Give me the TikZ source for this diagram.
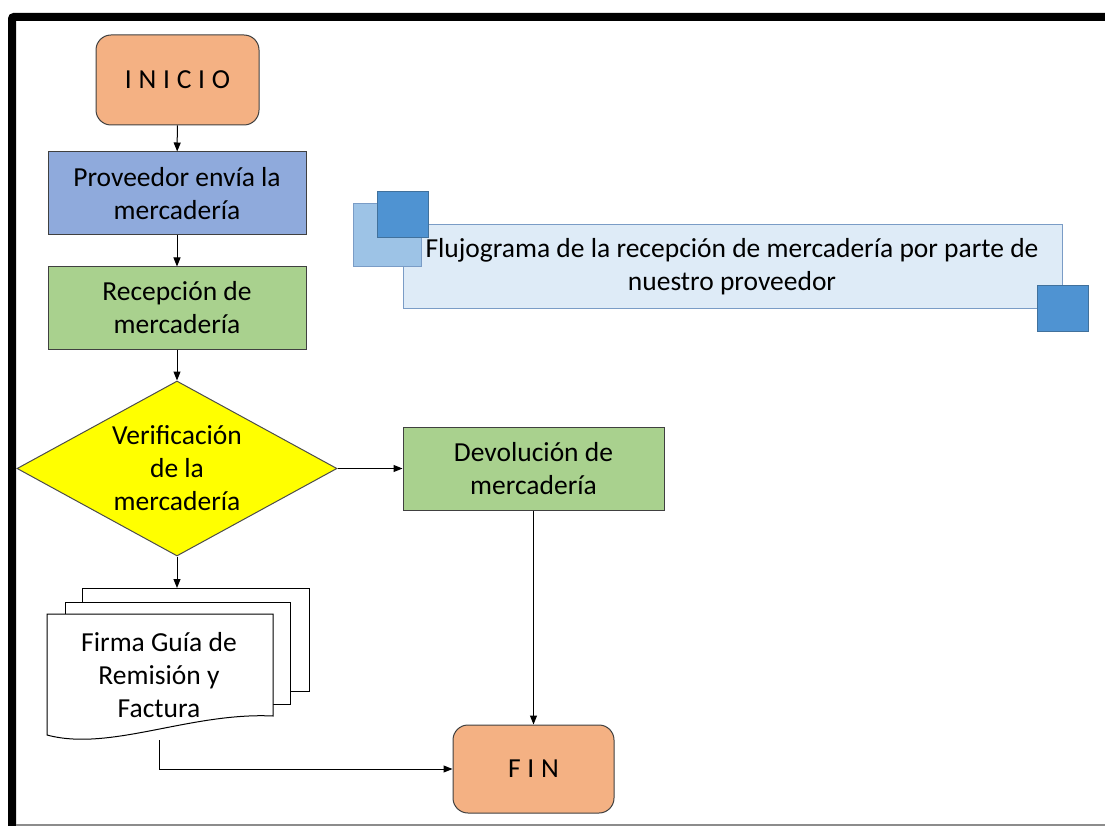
\documentclass[tikz,border=0pt]{standalone}
\usepackage{fontspec}
\setmainfont{Carlito}
\newfontfamily\spacedfont[LetterSpace=2]{Carlito}
\usepackage{xcolor}
\usepackage{tikz}
\usetikzlibrary{positioning, arrows.meta, shapes.geometric}

\definecolor{naranja}{HTML}{F4B183}
\definecolor{azulcaja}{HTML}{8FAADC}
\definecolor{verdecaja}{HTML}{A9D18E}
\definecolor{amarillo}{HTML}{FFFF00}
\definecolor{celeste}{HTML}{DEEBF7}
\definecolor{bordeceleste}{HTML}{7A9CC6}
\definecolor{cuadroclaro}{HTML}{9DC3E6}
\definecolor{cuadrooscuro}{HTML}{4F93D2}
\definecolor{bordecuadro}{HTML}{41719C}

\begin{document}
\begin{tikzpicture}[x=1pt, y=-1pt,
    every node/.style={font=\fontsize{27.5}{33}\selectfont, align=center},
    extremo/.style={draw=black!75, fill=naranja, rounded corners=15pt, line width=1pt},
    proceso/.style={draw=black!75, line width=1pt, inner sep=0pt},
    decision/.style={diamond, draw=black!70, fill=amarillo, line width=1pt,
                     inner sep=0pt, minimum width=320pt, minimum height=175pt},
    hoja/.style={draw=black, fill=white, line width=1pt},
    flecha/.style={line width=1pt, black, -{Triangle[length=9pt, width=7pt]}},
    cuadro/.style={draw=bordecuadro, line width=1pt}]

  \useasboundingbox (0,0) rectangle (1105,826);

  % marco
  \draw[line width=8pt, rounded corners=2pt, black]
          (12,826) -- (12,17) -- (1105,17);
  \draw[line width=1.5pt, black!45]
          (16,825) -- (1105,825);

  % titulo
  \node[draw=bordeceleste, fill=celeste, line width=1pt, minimum width=659pt, minimum height=83pt]
          (titulo) at (732.5,266.5) {};
  \draw[cuadro, draw=bordeceleste, fill=cuadroclaro] (353,204) rectangle (421,267);
  \draw[cuadro, fill=cuadrooscuro] (377,192) rectangle (428,238);
  \draw[cuadro, fill=cuadrooscuro] (1037,285) rectangle (1088,331);
  \node (textotitulo) at (732,267)
          {Flujograma de la recepción de mercadería por parte de\\nuestro proveedor};

  \node[extremo, minimum width=163pt, minimum height=90pt] (inicio) at (177.5,80)
          {\spacedfont I N I C I O};
  \node[proceso, fill=azulcaja, minimum width=258pt, minimum height=83pt] (proveedor) at (177,193.5)
          {Proveedor envía la\\mercadería};
  \node[proceso, fill=verdecaja, minimum width=258pt, minimum height=82pt] (recepcion) at (177,308)
          {Recepción de\\mercadería};
  \node[decision] (verificacion) at (177,468.5) {};
  \node (textoverificacion) at (verificacion.center)
          {Verificación\\de la\\mercadería};
  \node[proceso, fill=verdecaja, minimum width=261pt, minimum height=83pt] (devolucion) at (533.5,468.5)
          {Devolución de\\mercadería};
  \node[extremo, minimum width=161pt, minimum height=88pt] (fin) at (533.5,769)
          {\spacedfont F I N};

  % documentos
  \draw[hoja] (82,588) rectangle (309,691);
  \draw[hoja] (65,602) rectangle (290,704);
  \draw[hoja] (47,614) -- (273,614) -- (273,716)
          .. controls (190,712) and (110,752) .. (47,735) -- cycle;
  \node (firma) at (159,675) {Firma Guía de\\Remisión y\\Factura};
  \coordinate (hojasarriba) at (177,588);
  \coordinate (hojasabajo) at (159,740);

  \draw[flecha] (inicio) -- (proveedor);
  \draw[flecha] (proveedor) -- (recepcion);
  \draw[flecha] (recepcion) -- (verificacion);
  \draw[flecha] (verificacion.south) -- (hojasarriba);
  \draw[flecha] (verificacion.east) -- (devolucion.west);
  \draw[flecha] (devolucion.south) -- (fin.north);
  \draw[flecha] (hojasabajo) |- (fin.west);

\end{tikzpicture}
\end{document}
